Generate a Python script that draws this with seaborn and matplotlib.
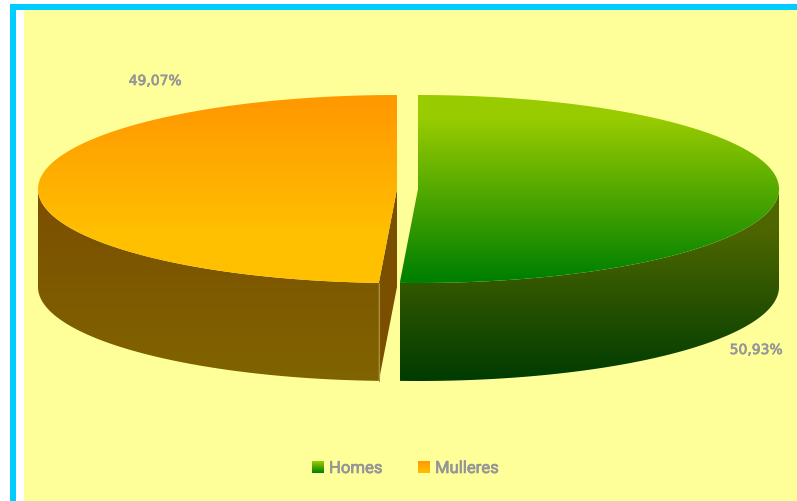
import numpy as np
import matplotlib
matplotlib.use('Agg')
import matplotlib.pyplot as plt
import matplotlib.patheffects as pe
from matplotlib.patches import PathPatch, Rectangle
from matplotlib.path import Path
import seaborn as sns

# datos
categories = ['Homes', 'Mulleres']
values = [50.93, 49.07]

# cores: arriba, abaixo
top_colors = [['#99CC00', '#008000'], ['#FF9900', '#FFC000']]
side_colors = [['#4E6600', '#003C00'], ['#7C5000', '#806400']]
cut_color = '#7A5000'
bg = '#FFFF99'
frame = '#00CCFF'
grey = '#969696'

sns.set_style('white')

fig = plt.figure(figsize=(7.97, 5.02), dpi=100, facecolor='white')
ax = fig.add_axes([0, 0, 1, 1])
ax.set_xlim(0, 797)
ax.set_ylim(502, 0)
ax.axis('off')

# fondo e marco
ax.add_patch(Rectangle((24, 11), 773, 491, fc=bg, ec='none', zorder=0))
ax.add_patch(Rectangle((10, 5), 787, 6, fc=frame, ec='none', zorder=1))
ax.add_patch(Rectangle((10, 5), 6, 497, fc=frame, ec='none', zorder=1))

centers = [(418, 190), (397, 190)]
rx = [361, 359]
ry = 94
depth = 98
join_shift = -0.45  # a xunta dos sectores queda algo mais vertical no orixinal
top_span = [(118, 280), (105, 235)]
side_span = [(230, 381), (205, 381)]


def arc(cx, cy, r, a0, a1):
    # angulos en graos desde arriba en sentido horario
    t = np.radians(np.linspace(a0, a1, 200))
    return np.column_stack([cx + r * np.sin(t), cy - ry * np.cos(t)])


def grad(points, colors, y0, y1, zorder=2):
    # y0, y1: onde empeza e remata a degradacion
    cmap = sns.blend_palette(colors, as_cmap=True)
    pts = np.vstack([points, points[:1]])
    codes = [Path.MOVETO] + [Path.LINETO] * (len(points) - 1) + [Path.CLOSEPOLY]
    patch = PathPatch(Path(pts, codes), fc='none', ec='none', transform=ax.transData)
    ax.add_patch(patch)
    ys = np.linspace(pts[:, 1].min(), pts[:, 1].max(), 256)
    shade = np.clip((ys - y0) / (y1 - y0), 0, 1).reshape(-1, 1)
    im = ax.imshow(shade, cmap=cmap, vmin=0, vmax=1, aspect='auto',
                   extent=(pts[:, 0].min(), pts[:, 0].max(), ys[-1], ys[0]), zorder=zorder)
    im.set_clip_path(patch)


def swatch(x, y, colors):
    cmap = sns.blend_palette(colors, as_cmap=True)
    ax.imshow(np.linspace(0, 1, 64).reshape(-1, 1), cmap=cmap, aspect='auto',
              extent=(x, x + 12, y + 12, y), zorder=3)


# sectores a partir dos valores
angles = np.cumsum([0] + values) / sum(values) * 360
angles[1] += join_shift
for i, name in enumerate(categories):
    a0, a1 = angles[i], angles[i + 1]
    cx, cy = centers[i]
    r = rx[i]
    # parede exterior: so a parte frontal
    s0, s1 = max(a0, 90), min(a1, 270)
    front = arc(cx, cy, r, s0, s1)
    wall = np.vstack([front, (front + [0, depth])[::-1]])
    grad(wall, side_colors[i], *side_span[i])
    # corte visible do sector esquerdo
    if a0 > 90 and a0 < 270:
        p = arc(cx, cy, r, a0, a0)[0]
        cut = np.array([[cx, cy], p, p + [0, depth], [cx, cy + depth]])
        ax.add_patch(plt.Polygon(cut, fc=cut_color, ec='none', zorder=2.5))
        ax.plot([p[0], p[0]], [p[1], p[1] + depth], color='#A89040', lw=0.8, zorder=2.6)
    # cara superior
    face = np.vstack([[cx, cy], arc(cx, cy, r, a0, a1)])
    grad(face, top_colors[i], *top_span[i], zorder=3)

# etiquetas de datos
label_pos = [(756, 351), (155, 82)]
for v, (x, y) in zip(values, label_pos):
    ax.text(x, y, f'{v:.2f}%'.replace('.', ','), color=grey, fontsize=10,
            family='DejaVu Sans', ha='center', va='center', zorder=4,
            path_effects=[pe.withStroke(linewidth=0.5, foreground=grey)])

# lenda
legend_x = [312, 418]
for i, name in enumerate(categories):
    swatch(legend_x[i], 462, top_colors[i])
    ax.text(legend_x[i] + 17, 469.5, name, color=grey, fontsize=12, family='Roboto',
            ha='left', va='center', zorder=4,
            path_effects=[pe.withStroke(linewidth=0.5, foreground=grey)])

ax.set_xlim(0, 797)
ax.set_ylim(502, 0)
plt.savefig('out.png', dpi=100)
